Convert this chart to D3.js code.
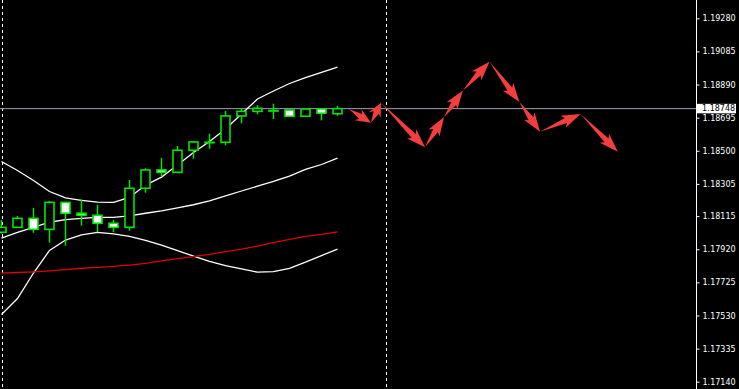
<!DOCTYPE html>
<html><head><meta charset="utf-8">
<script src="https://cdn.jsdelivr.net/npm/d3@7"></script>
<style>html,body{margin:0;padding:0;background:#000;}svg{display:block;}</style>
</head><body>
<script>
// ---- data ----
const opens  = [1.18020,1.18049,1.18102,1.18037,1.18196,1.18132,1.18120,1.18073,1.18049,1.18279,1.18387,1.18373,1.18503,1.18548,1.18550,1.18705,1.18732,1.18736,1.18740,1.18703,1.18746,1.18718];
const highs  = [1.18092,1.18116,1.18163,1.18204,1.18196,1.18214,1.18182,1.18092,1.18328,1.18397,1.18457,1.18528,1.18559,1.18600,1.18734,1.18750,1.18769,1.18777,1.18740,1.18748,1.18746,1.18764];
const lows   = [1.18013,1.18049,1.18017,1.17959,1.17941,1.18059,1.18020,1.18020,1.18029,1.18253,1.18347,1.18367,1.18453,1.18512,1.18532,1.18662,1.18715,1.18687,1.18703,1.18703,1.18679,1.18706];
const closes = [1.18049,1.18102,1.18037,1.18196,1.18132,1.18120,1.18073,1.18049,1.18279,1.18387,1.18373,1.18503,1.18552,1.18550,1.18705,1.18732,1.18750,1.18737,1.18703,1.18746,1.18721,1.18748];
const bandUpper = [1.18437,1.18384,1.18325,1.18260,1.18222,1.18208,1.18198,1.18196,1.18225,1.18298,1.18345,1.18416,1.18490,1.18554,1.18628,1.18716,1.18805,1.18852,1.18896,1.18931,1.18962,1.18993];
const bandMiddle = [1.17986,1.18019,1.18049,1.18079,1.18094,1.18102,1.18108,1.18108,1.18117,1.18132,1.18146,1.18164,1.18182,1.18205,1.18234,1.18263,1.18291,1.18319,1.18351,1.18390,1.18419,1.18456];
const bandLower = [1.17536,1.17630,1.17780,1.17913,1.17974,1.18005,1.18019,1.18011,1.17996,1.17972,1.17944,1.17912,1.17880,1.17849,1.17824,1.17804,1.17785,1.17788,1.17807,1.17844,1.17883,1.17921];
const maRed = [1.17779,1.17783,1.17787,1.17793,1.17800,1.17808,1.17813,1.17819,1.17827,1.17837,1.17852,1.17865,1.17877,1.17890,1.17906,1.17921,1.17939,1.17959,1.17978,1.17996,1.18007,1.18022];
const forecastBars   = [21.74,23.09,23.72,26.47,27.66,28.83,30.50,32.37,33.66,36.19,38.52];
const forecastPrices = [1.18744,1.18665,1.18782,1.18520,1.18699,1.18854,1.19024,1.18787,1.18612,1.18716,1.18494];
const separatorBars = [0, 24];
const tickLabels = ["1.19280","1.19085","1.18890","1.18695","1.18500","1.18305","1.18115","1.17920","1.17725","1.17530","1.17335","1.17140"];
const currentPrice = 1.18748;

// ---- layout ----
const W = 739, H = 389, plotRight = 696;
const svg = d3.select("body").append("svg").attr("width", W).attr("height", H)
  .style("background", "#000");

const x = d3.scaleLinear().domain([0, 43.5]).range([1.5, 1.5 + 16 * 43.5]);
const y = d3.scaleLinear().domain([1.17140, 1.19280]).range([381.7, 18.3]);

svg.append("defs").append("clipPath").attr("id", "plot")
  .append("rect").attr("x", 0).attr("y", 0).attr("width", plotRight).attr("height", H);
const g = svg.append("g").attr("clip-path", "url(#plot)");

// separators
g.selectAll("line.sep").data(separatorBars).join("line").attr("class", "sep")
  .attr("x1", d => Math.round(x(d)) + 0.5).attr("x2", d => Math.round(x(d)) + 0.5)
  .attr("y1", 0).attr("y2", H)
  .attr("stroke", "#fff").attr("stroke-width", 1).attr("stroke-dasharray", "3,3");

// current price line
g.append("line").attr("x1", 0).attr("x2", plotRight)
  .attr("y1", y(currentPrice)).attr("y2", y(currentPrice))
  .attr("stroke", "#98a3b3").attr("stroke-width", 1);

// bands
const line = d3.line().x((d, i) => x(i)).y(d => y(d));
[[bandUpper, "#fff"], [bandMiddle, "#fff"], [bandLower, "#fff"], [maRed, "#e00000"]].forEach(([arr, col]) => {
  g.append("path").datum(arr).attr("d", line).attr("fill", "none")
    .attr("stroke", col).attr("stroke-width", 1.3);
});

// candles
const green = "#00e600";
const idx = d3.range(opens.length);
g.selectAll("line.wick").data(idx).join("line").attr("class", "wick")
  .attr("x1", i => x(i)).attr("x2", i => x(i))
  .attr("y1", i => y(highs[i])).attr("y2", i => y(lows[i]))
  .attr("stroke", green).attr("stroke-width", 1.5);
g.selectAll("rect.body").data(idx).join("rect").attr("class", "body")
  .attr("x", i => x(i) - 4.5).attr("width", 9)
  .attr("y", i => y(Math.max(opens[i], closes[i])))
  .attr("height", i => Math.max(0.5, Math.abs(y(opens[i]) - y(closes[i]))))
  .attr("fill", i => closes[i] >= opens[i] ? "#000" : "#fff")
  .attr("stroke", green).attr("stroke-width", 1.6);

// forecast arrows
function arrowPath(x0, y0, x1, y1) {
  const dx = x1 - x0, dy = y1 - y0, L = Math.hypot(dx, dy);
  const ux = dx / L, uy = dy / L, nx = -uy, ny = ux;
  const h = Math.min(16, L * 0.48), hw = 6.5, sw = 2.8;
  const bx = x1 - ux * h, by = y1 - uy * h;
  const pts = [[x0, y0], [bx + nx * sw, by + ny * sw], [bx + nx * hw - ux * 3, by + ny * hw - uy * 3], [x1, y1],
               [bx - nx * hw - ux * 3, by - ny * hw - uy * 3], [bx - nx * sw, by - ny * sw]];
  return "M" + pts.map(p => p.join(",")).join("L") + "Z";
}
const segs = d3.range(forecastBars.length - 1);
g.selectAll("path.arrow").data(segs).join("path").attr("class", "arrow")
  .attr("d", i => arrowPath(x(forecastBars[i]), y(forecastPrices[i]), x(forecastBars[i + 1]), y(forecastPrices[i + 1])))
  .attr("fill", "#f43e3e");

// right axis
svg.append("line").attr("x1", plotRight + 0.5).attr("x2", plotRight + 0.5).attr("y1", 0).attr("y2", H)
  .attr("stroke", "#fff").attr("stroke-width", 1);
const axis = d3.axisRight(y).tickValues(tickLabels.map(Number)).tickSize(3).tickSizeOuter(0).tickPadding(3)
  .tickFormat((d, i) => tickLabels[i]);
const ag = svg.append("g").attr("transform", `translate(${plotRight + 0.5},0)`).call(axis);
ag.select(".domain").remove();
ag.selectAll(".tick line").attr("stroke", "#fff");
ag.selectAll(".tick text").attr("fill", "#fff").style("font-family", "'DejaVu Sans', sans-serif").style("font-size", "8px");

// current price label
const cy = y(currentPrice);
svg.append("rect").attr("x", 697).attr("y", cy - 4.8).attr("width", 39).attr("height", 9.5).attr("fill", "#fff");
svg.append("text").attr("x", 702).attr("y", cy).attr("dy", "0.32em").text(currentPrice.toFixed(5))
  .attr("fill", "#000").style("font-family", "'DejaVu Sans', sans-serif").style("font-size", "8px");
</script>
</body></html>
